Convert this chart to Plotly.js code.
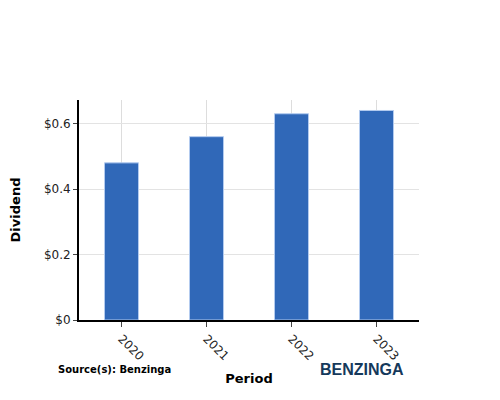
<!DOCTYPE html>
<html>
<head>
<meta charset="utf-8">
<script src="https://cdn.plot.ly/plotly-3.0.1.min.js"></script>
<style>html,body{margin:0;padding:0;background:#fff;}#chart{width:500px;height:400px;}</style>
</head>
<body>
<div id="chart"></div>
<script>
var periods = ["2020", "2021", "2022", "2023"];
var dividends = [0.48, 0.56, 0.63, 0.64];
var yTicks = [0, 0.2, 0.4, 0.6];

var trace = {
  type: "bar",
  x: periods,
  y: dividends,
  width: 0.4,
  marker: {color: "#3068b8", line: {color: "#b3cbef", width: 1}},
  hoverinfo: "none"
};

var layout = {
  width: 500, height: 400,
  margin: {l: 79, r: 81, t: 100, b: 80},
  paper_bgcolor: "#fff", plot_bgcolor: "#fff",
  font: {family: "DejaVu Sans", size: 12, color: "#222"},
  showlegend: false,
  xaxis: {
    type: "category",
    showline: true, linecolor: "#000", linewidth: 2,
    showgrid: true, gridcolor: "#dddddd", gridwidth: 1,
    ticks: "outside", ticklen: 5, tickcolor: "#444", tickwidth: 1,
    tickangle: 45,
    tickfont: {family: "DejaVu Sans", size: 12, color: "#222"},
    title: {text: "Period", font: {family: "DejaVu Sans", size: 13, color: "#000", weight: "bold"}, standoff: 12},
    zeroline: false,
    layer: "below traces"
  },
  yaxis: {
    range: [0, 0.672],
    tickvals: yTicks,
    ticktext: yTicks.map(function(v){ return "$" + (v === 0 ? "0" : v.toString()); }),
    showline: true, linecolor: "#000", linewidth: 2,
    showgrid: true, gridcolor: "#e3e3e3", gridwidth: 1,
    ticks: "outside", ticklen: 4, tickcolor: "#444", tickwidth: 1,
    tickfont: {family: "DejaVu Sans", size: 12, color: "#222"},
    title: {text: "Dividend", font: {family: "DejaVu Sans", size: 13, color: "#000", weight: "bold"}, standoff: 20},
    zeroline: false,
    fixedrange: true
  },
  annotations: [
    {text: "Source(s): Benzinga", xref: "paper", yref: "paper", x: -0.067, y: -0.225, xanchor: "left", yanchor: "middle", showarrow: false,
     font: {family: "DejaVu Sans", size: 10, color: "#000", weight: "bold"}},
    {text: "BENZINGA", xref: "paper", yref: "paper", x: 0.831, y: -0.227, xanchor: "center", yanchor: "middle", showarrow: false,
     font: {family: "Liberation Sans", size: 16, color: "#15395b", weight: "bold"}}
  ]
};

Plotly.newPlot("chart", [trace], layout, {displayModeBar: false, staticPlot: true});
</script>
</body>
</html>
